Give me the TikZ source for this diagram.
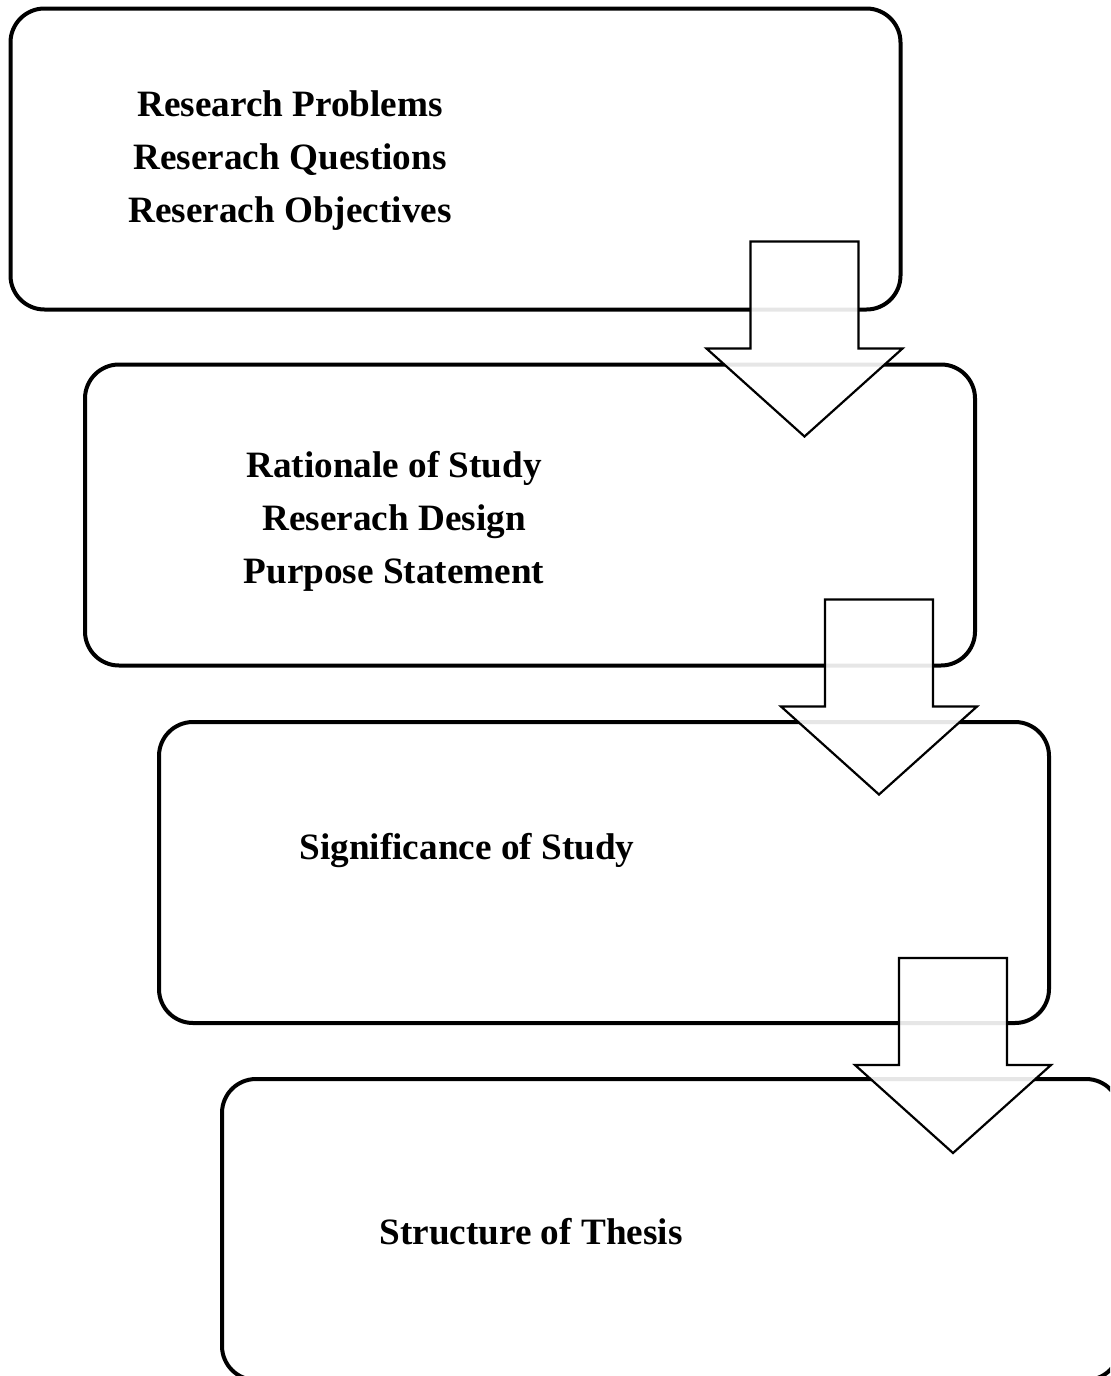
\documentclass[tikz,border=0pt]{standalone}
\usepackage{fontspec}
\setmainfont{Liberation Serif}
\usetikzlibrary{positioning}
\tikzset{
  stagebox/.style={draw=black, line width=2pt, rounded corners=17pt, minimum width=445pt, minimum height=150.5pt},
  stagetext/.style={font=\fontsize{18.6}{26.5}\selectfont\bfseries, align=center},
  blockarrow/.style={draw=black, line width=1.1pt, fill=white, fill opacity=0.9},
  downarrow/.pic={\draw[blockarrow] (-54,0) -- (54,0) -- (54,107) -- (98,107) -- (0,195) -- (-98,107) -- (-54,107) -- cycle;},
}
\begin{document}
\begin{tikzpicture}[x=0.5pt, y=-0.5pt]
  \clip (0,0) rectangle (1110,1376);
  % the four stages
  \node[stagebox] (problems) at (455.5,159) {};
  \node[stagebox] (rationale) at (530,515) {};
  \node[stagebox] (significance) at (604,872.5) {};
  \node[stagebox, minimum width=449pt] (structure) at (671,1229.5) {};
  \node[stagetext] (problemstext) at (290,161) {Research Problems\\Reserach Questions\\Reserach Objectives};
  \node[stagetext] (rationaletext) at (394,521) {Rationale of Study\\Reserach Design\\Purpose Statement};
  \node[stagetext] (significancetext) at (467,850) {Significance of Study};
  \node[stagetext] (structuretext) at (531,1232) {Structure of Thesis};
  % block arrows from one stage to the next
  \pic at ([xshift=-49pt, yshift=35pt]problems.south east) {downarrow};
  \pic at ([xshift=-49pt, yshift=34pt]rationale.south east) {downarrow};
  \pic at ([xshift=-49pt, yshift=33.5pt]significance.south east) {downarrow};
\end{tikzpicture}
\end{document}
